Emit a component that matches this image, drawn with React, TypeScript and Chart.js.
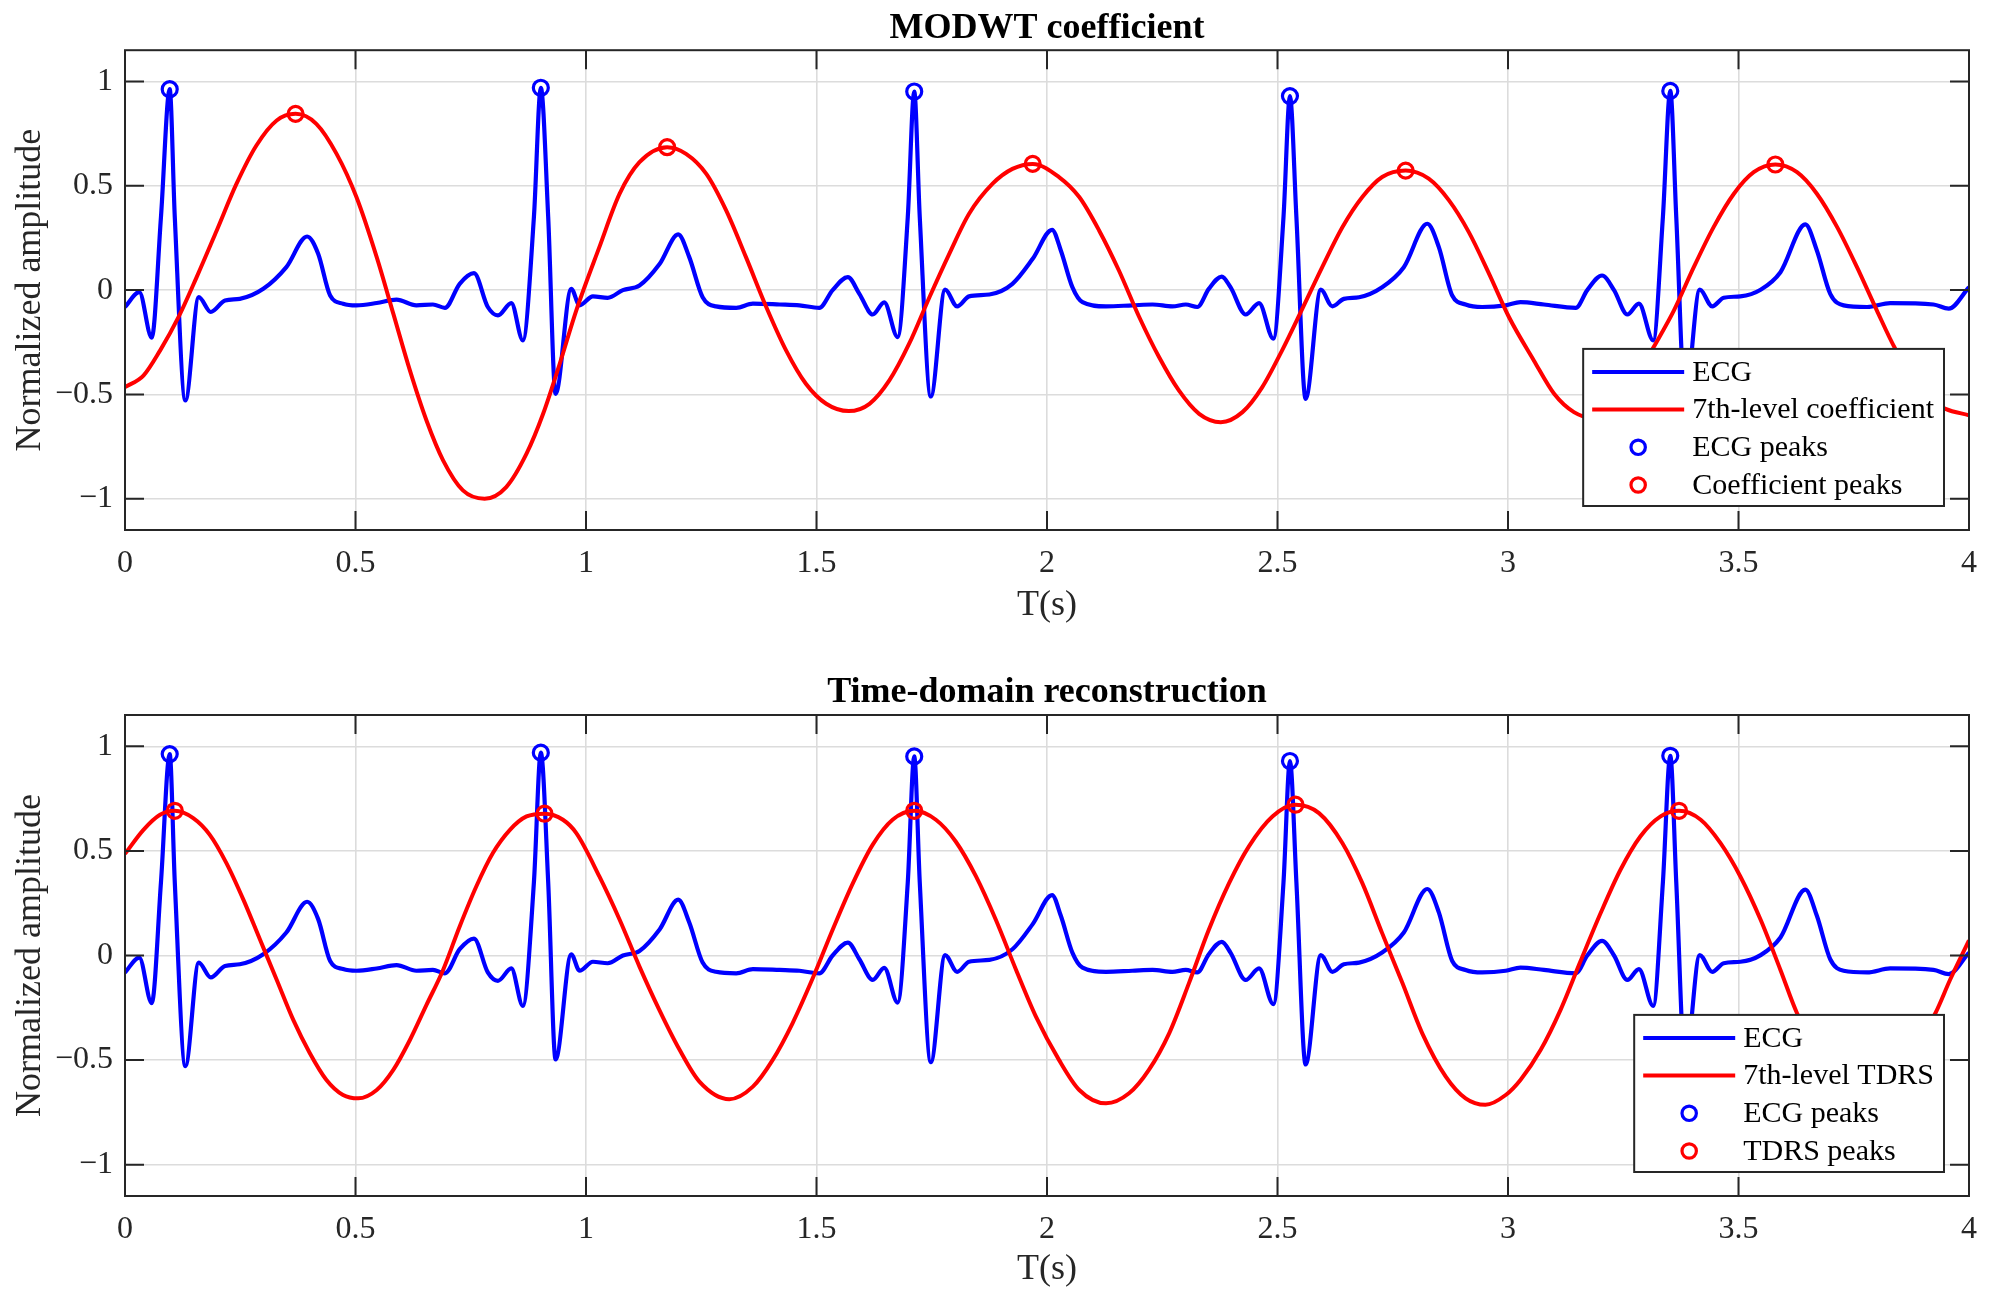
import { useEffect, useRef } from 'react';
import { Chart, registerables } from 'chart.js';

Chart.register(...registerables);

const FONT = '"Liberation Serif", "Times New Roman", serif';
const AXIS = '#262626';
const BLUE = '#0000ff';
const RED = '#ff0000';

// ECG trace (same in both panels)
const ecgT = [
  0, 0.031, 0.058, 0.078, 0.097, 0.108, 0.131, 0.16, 0.186, 0.217, 0.249, 0.3, 0.35, 0.395, 0.419, 0.445,
  0.473, 0.502, 0.546, 0.589, 0.632, 0.668, 0.694, 0.726, 0.757, 0.787, 0.809, 0.838, 0.863, 0.887, 0.902,
  0.918, 0.934, 0.968, 0.986, 1.015, 1.047, 1.08, 1.116, 1.16, 1.2, 1.224, 1.253, 1.282, 1.326, 1.362,
  1.42, 1.463, 1.506, 1.535, 1.568, 1.593, 1.622, 1.647, 1.676, 1.698, 1.712, 1.724, 1.748, 1.779, 1.805,
  1.831, 1.875, 1.925, 1.969, 2.011, 2.03, 2.055, 2.077, 2.128, 2.185, 2.229, 2.272, 2.301, 2.326, 2.351,
  2.379, 2.398, 2.431, 2.46, 2.491, 2.513, 2.527, 2.541, 2.561, 2.594, 2.619, 2.644, 2.677, 2.727, 2.774,
  2.825, 2.85, 2.879, 2.908, 2.944, 2.995, 3.027, 3.078, 3.147, 3.172, 3.204, 3.23, 3.259, 3.284, 3.315,
  3.336, 3.352, 3.365, 3.384, 3.416, 3.443, 3.468, 3.504, 3.548, 3.591, 3.645, 3.67, 3.699, 3.728, 3.779,
  3.829, 3.923, 3.956, 4.0,
];
const ecgV = [
  -0.081, -0.01, -0.228, 0.35, 0.963, 0.35, -0.529, -0.034, -0.105, -0.05, -0.042, 0.006, 0.11, 0.257, 0.174, -0.026,
  -0.065, -0.073, -0.062, -0.046, -0.073, -0.069, -0.085, 0.03, 0.081, -0.081, -0.121, -0.062, -0.241, 0.35, 0.97,
  0.35, -0.497, 0.006, -0.073, -0.03, -0.037, 0, 0.022, 0.126, 0.267, 0.158, -0.034, -0.078, -0.085, -0.065,
  -0.069, -0.073, -0.085, 0, 0.062, -0.018, -0.117, -0.059, -0.225, 0.35, 0.952, 0.35, -0.51, 0.002, -0.078,
  -0.03, -0.021, 0.03, 0.15, 0.289, 0.19, 0.014, -0.058, -0.078, -0.073, -0.069, -0.078, -0.069, -0.081, 0.006,
  0.065, 0.014, -0.117, -0.062, -0.233, 0.35, 0.93, 0.35, -0.521, 0.002, -0.078, -0.042, -0.034, 0.014, 0.11,
  0.318, 0.206, -0.026, -0.069, -0.081, -0.073, -0.058, -0.069, -0.085, 0, 0.07, 0, -0.117, -0.065, -0.241,
  0.35, 0.955, 0.35, -0.52, 0.002, -0.078, -0.037, -0.03, 0.002, 0.086, 0.315, 0.19, -0.018, -0.073, -0.081,
  -0.062, -0.069, -0.089, 0.014,
];
const ecgPeakT = [0.097, 0.902, 1.712, 2.527, 3.352];
const ecgPeakV = [0.963, 0.97, 0.952, 0.93, 0.955];

// 7th-level MODWT coefficient (top panel)
const coefT = [
  0, 0.04, 0.076, 0.116, 0.155, 0.199, 0.242, 0.285, 0.329, 0.37, 0.415, 0.459, 0.502, 0.546, 0.582, 0.618,
  0.654, 0.69, 0.733, 0.78, 0.827, 0.871, 0.907, 0.943, 0.979, 1.029, 1.073, 1.116, 1.176, 1.217, 1.261,
  1.304, 1.347, 1.391, 1.434, 1.477, 1.521, 1.57, 1.615, 1.658, 1.701, 1.745, 1.788, 1.831, 1.882, 1.925,
  1.969, 2.026, 2.07, 2.113, 2.156, 2.2, 2.243, 2.286, 2.33, 2.377, 2.424, 2.467, 2.51, 2.554, 2.597, 2.641,
  2.684, 2.727, 2.778, 2.828, 2.872, 2.915, 2.959, 3.002, 3.056, 3.1, 3.143, 3.18, 3.22, 3.27, 3.316, 3.36,
  3.403, 3.446, 3.49, 3.533, 3.58, 3.627, 3.67, 3.714, 3.757, 3.8, 3.84, 3.88, 3.92, 3.949, 4.0,
];
const coefV = [
  -0.465, -0.41, -0.29, -0.13, 0.06, 0.286, 0.51, 0.693, 0.813, 0.845, 0.797, 0.653, 0.446, 0.158, -0.113, -0.385,
  -0.625, -0.816, -0.96, -1.0, -0.944, -0.784, -0.593, -0.353, -0.097, 0.206, 0.462, 0.613, 0.685, 0.653, 0.557,
  0.382, 0.158, -0.081, -0.289, -0.449, -0.545, -0.58, -0.545, -0.433, -0.257, -0.034, 0.174, 0.366, 0.51, 0.581,
  0.605, 0.542, 0.446, 0.286, 0.094, -0.129, -0.321, -0.481, -0.593, -0.633, -0.585, -0.465, -0.289, -0.089, 0.11, 0.302,
  0.446, 0.542, 0.573, 0.534, 0.43, 0.278, 0.078, -0.129, -0.337, -0.497, -0.585, -0.61, -0.58, -0.45, -0.273, -0.097,
  0.11, 0.302, 0.462, 0.565, 0.602, 0.565, 0.462, 0.302, 0.11, -0.097, -0.281, -0.42, -0.53, -0.569, -0.6,
];
const coefPeakT = [0.37, 1.176, 1.969, 2.778, 3.58];
const coefPeakV = [0.845, 0.685, 0.605, 0.573, 0.602];

// 7th-level time-domain reconstruction (bottom panel)
const tdrsT = [
  0, 0.04, 0.076, 0.108, 0.148, 0.184, 0.22, 0.257, 0.293, 0.329, 0.365, 0.401, 0.437, 0.473, 0.506, 0.546,
  0.582, 0.618, 0.654, 0.69, 0.726, 0.762, 0.798, 0.835, 0.871, 0.91, 0.95, 0.979, 1.029, 1.073, 1.116, 1.159,
  1.203, 1.246, 1.311, 1.362, 1.405, 1.448, 1.492, 1.535, 1.579, 1.622, 1.665, 1.712, 1.759, 1.802, 1.846,
  1.889, 1.933, 1.976, 2.026, 2.07, 2.128, 2.178, 2.221, 2.265, 2.308, 2.351, 2.395, 2.438, 2.489, 2.539, 2.59,
  2.641, 2.684, 2.727, 2.771, 2.814, 2.865, 2.908, 2.951, 2.995, 3.027, 3.071, 3.114, 3.157, 3.201, 3.244,
  3.287, 3.331, 3.371, 3.418, 3.461, 3.504, 3.548, 3.591, 3.627, 3.68, 3.72, 3.77, 3.82, 3.87, 3.927, 3.959, 4.0,
];
const tdrsV = [
  0.486, 0.601, 0.673, 0.692, 0.657, 0.577, 0.442, 0.266, 0.075, -0.116, -0.308, -0.467, -0.595, -0.667, -0.683, -0.643,
  -0.547, -0.404, -0.236, -0.069, 0.139, 0.33, 0.49, 0.601, 0.665, 0.678, 0.649, 0.585, 0.378, 0.171, -0.053, -0.26,
  -0.451, -0.603, -0.687, -0.627, -0.499, -0.324, -0.108, 0.123, 0.346, 0.53, 0.649, 0.692, 0.649, 0.545, 0.378,
  0.171, -0.069, -0.292, -0.499, -0.643, -0.707, -0.659, -0.547, -0.372, -0.132, 0.123, 0.346, 0.522, 0.665, 0.721, 0.681,
  0.537, 0.346, 0.107, -0.132, -0.372, -0.579, -0.683, -0.714, -0.667, -0.595, -0.451, -0.26, -0.029, 0.203, 0.41,
  0.569, 0.665, 0.692, 0.649, 0.537, 0.378, 0.171, -0.069, -0.276, -0.48, -0.62, -0.7, -0.64, -0.48, -0.276, -0.116, 0.072,
];
const tdrsPeakT = [0.108, 0.91, 1.712, 2.539, 3.371];
const tdrsPeakV = [0.692, 0.678, 0.692, 0.721, 0.692];

const xTicks = [0, 0.5, 1, 1.5, 2, 2.5, 3, 3.5, 4];
const yTicks = [-1, -0.5, 0, 0.5, 1];

const legendTop = ['ECG', '7th-level coefficient', 'ECG peaks', 'Coefficient peaks'];
const legendBottom = ['ECG', '7th-level TDRS', 'ECG peaks', 'TDRS peaks'];

const pts = (t: number[], v: number[]) => t.map((x, i) => ({ x, y: v[i] }));
const fmt = (v: number) => (v < 0 ? '\u2212' + String(Math.abs(v)) : String(v));

type Item = { label: string; color: string; kind: 'line' | 'marker' };

function framePlugin(items: Item[]) {
  return {
    id: 'frameAndLegend',
    afterDatasetsDraw(chart: any) {
      const { ctx, chartArea: a, scales } = chart;
      ctx.save();
      // box with inward ticks on all four sides
      ctx.strokeStyle = AXIS;
      ctx.lineWidth = 2;
      const tk = 19;
      ctx.beginPath();
      xTicks.forEach((v) => {
        const p = scales.x.getPixelForValue(v);
        ctx.moveTo(p, a.bottom);
        ctx.lineTo(p, a.bottom - tk);
        ctx.moveTo(p, a.top);
        ctx.lineTo(p, a.top + tk);
      });
      yTicks.forEach((v) => {
        const p = scales.y.getPixelForValue(v);
        ctx.moveTo(a.left, p);
        ctx.lineTo(a.left + tk, p);
        ctx.moveTo(a.right, p);
        ctx.lineTo(a.right - tk, p);
      });
      ctx.stroke();
      ctx.strokeRect(a.left, a.top, a.right - a.left, a.bottom - a.top);

      // legend, bottom-right inside the axes
      ctx.font = `30px ${FONT}`;
      const textW = Math.max(...items.map((it) => ctx.measureText(it.label).width));
      const w = 9 + 92 + 8 + textW + 10;
      const rowH = 37.7;
      const h = 23 + rowH * (items.length - 1) + 21;
      const x0 = a.right - 25 - w;
      const y0 = a.bottom - 24 - h;
      ctx.fillStyle = '#ffffff';
      ctx.fillRect(x0, y0, w, h);
      ctx.strokeStyle = AXIS;
      ctx.lineWidth = 2;
      ctx.strokeRect(x0, y0, w, h);
      items.forEach((it, i) => {
        const cy = y0 + 23 + i * rowH;
        ctx.strokeStyle = it.color;
        if (it.kind === 'line') {
          ctx.lineWidth = 4;
          ctx.beginPath();
          ctx.moveTo(x0 + 9, cy);
          ctx.lineTo(x0 + 101, cy);
          ctx.stroke();
        } else {
          ctx.lineWidth = 3.2;
          ctx.beginPath();
          ctx.arc(x0 + 55, cy, 7.2, 0, Math.PI * 2);
          ctx.stroke();
        }
        ctx.fillStyle = '#000000';
        ctx.textAlign = 'left';
        ctx.textBaseline = 'middle';
        ctx.fillText(it.label, x0 + 109, cy + 1);
      });
      ctx.restore();
    },
  };
}

type PanelProps = {
  height: number;
  title: string;
  titlePadTop: number;
  titlePadBottom: number;
  xAxisHeight: number;
  xTitlePad: number;
  redT: number[];
  redV: number[];
  redPeakT: number[];
  redPeakV: number[];
  labels: string[];
};

function Panel(p: PanelProps) {
  const canvasRef = useRef<HTMLCanvasElement>(null);

  useEffect(() => {
    if (!canvasRef.current) return;
    const items: Item[] = [
      { label: p.labels[0], color: BLUE, kind: 'line' },
      { label: p.labels[1], color: RED, kind: 'line' },
      { label: p.labels[2], color: BLUE, kind: 'marker' },
      { label: p.labels[3], color: RED, kind: 'marker' },
    ];
    const peakStyle = (color: string) => ({
      showLine: false,
      borderColor: color,
      backgroundColor: 'rgba(0,0,0,0)',
      pointStyle: 'circle' as const,
      pointRadius: 7.5,
      pointBorderWidth: 3.2,
    });
    const chart = new Chart(canvasRef.current, {
      type: 'line',
      data: {
        datasets: [
          {
            label: p.labels[0],
            data: pts(ecgT, ecgV),
            borderColor: BLUE,
            borderWidth: 4.2,
            pointRadius: 0,
            cubicInterpolationMode: 'monotone',
            order: 4,
          },
          {
            label: p.labels[1],
            data: pts(p.redT, p.redV),
            borderColor: RED,
            borderWidth: 4,
            pointRadius: 0,
            cubicInterpolationMode: 'monotone',
            order: 3,
          },
          { label: p.labels[2], data: pts(ecgPeakT, ecgPeakV), order: 2, ...peakStyle(BLUE) },
          { label: p.labels[3], data: pts(p.redPeakT, p.redPeakV), order: 1, ...peakStyle(RED) },
        ],
      },
      options: {
        responsive: true,
        maintainAspectRatio: false,
        animation: false,
        layout: { padding: { left: 0, right: 21, top: 0, bottom: 0 } },
        plugins: {
          legend: { display: false },
          tooltip: { enabled: false },
          title: {
            display: true,
            fullSize: false,
            text: p.title,
            color: '#000000',
            font: { family: FONT, size: 36, weight: 'bold', lineHeight: 1.2 },
            padding: { top: p.titlePadTop, bottom: p.titlePadBottom },
          },
        },
        scales: {
          x: {
            type: 'linear',
            min: 0,
            max: 4,
            afterBuildTicks: (s: any) => {
              s.ticks = xTicks.map((value) => ({ value }));
            },
            afterFit: (s: any) => {
              s.height = p.xAxisHeight;
            },
            grid: { color: '#dcdcdc', lineWidth: 1.6, drawTicks: false },
            border: { display: false },
            ticks: {
              autoSkip: false,
              maxRotation: 0,
              padding: 14,
              color: AXIS,
              font: { family: FONT, size: 32 },
              callback: (v: any) => fmt(Number(v)),
            },
            title: {
              display: true,
              text: 'T(s)',
              color: AXIS,
              font: { family: FONT, size: 36, lineHeight: 1.2 },
              padding: { top: 0, bottom: p.xTitlePad },
            },
          },
          y: {
            min: -1.15,
            max: 1.15,
            afterBuildTicks: (s: any) => {
              s.ticks = yTicks.map((value) => ({ value }));
            },
            afterFit: (s: any) => {
              s.width = 125;
            },
            grid: { color: '#dcdcdc', lineWidth: 1.6, drawTicks: false },
            border: { display: false },
            ticks: {
              padding: 12,
              color: AXIS,
              font: { family: FONT, size: 32 },
              callback: (v: any) => fmt(Number(v)),
            },
            title: {
              display: true,
              text: 'Normalized amplitude',
              color: AXIS,
              font: { family: FONT, size: 36, lineHeight: 1.2 },
              padding: { top: 9.4, bottom: 0 },
            },
          },
        },
      },
      plugins: [framePlugin(items)],
    });

    return () => {
      chart.destroy();
    };
  }, [p]);

  return (
    <div style={{ position: 'relative', width: 1991, height: p.height }}>
      <canvas ref={canvasRef} />
    </div>
  );
}

const topPanel: PanelProps = {
  height: 655,
  title: 'MODWT coefficient',
  titlePadTop: 7,
  titlePadBottom: 0,
  xAxisHeight: 125,
  xTitlePad: 27.4,
  redT: coefT,
  redV: coefV,
  redPeakT: coefPeakT,
  redPeakV: coefPeakV,
  labels: legendTop,
};

const bottomPanel: PanelProps = {
  height: 656,
  title: 'Time-domain reconstruction',
  titlePadTop: 16,
  titlePadBottom: 0.8,
  xAxisHeight: 115,
  xTitlePad: 19.4,
  redT: tdrsT,
  redV: tdrsV,
  redPeakT: tdrsPeakT,
  redPeakV: tdrsPeakV,
  labels: legendBottom,
};

export default function App() {
  return (
    <div style={{ position: 'absolute', left: 0, top: 0, width: 1991, height: 1311, background: '#ffffff' }}>
      <Panel {...topPanel} />
      <Panel {...bottomPanel} />
    </div>
  );
}
